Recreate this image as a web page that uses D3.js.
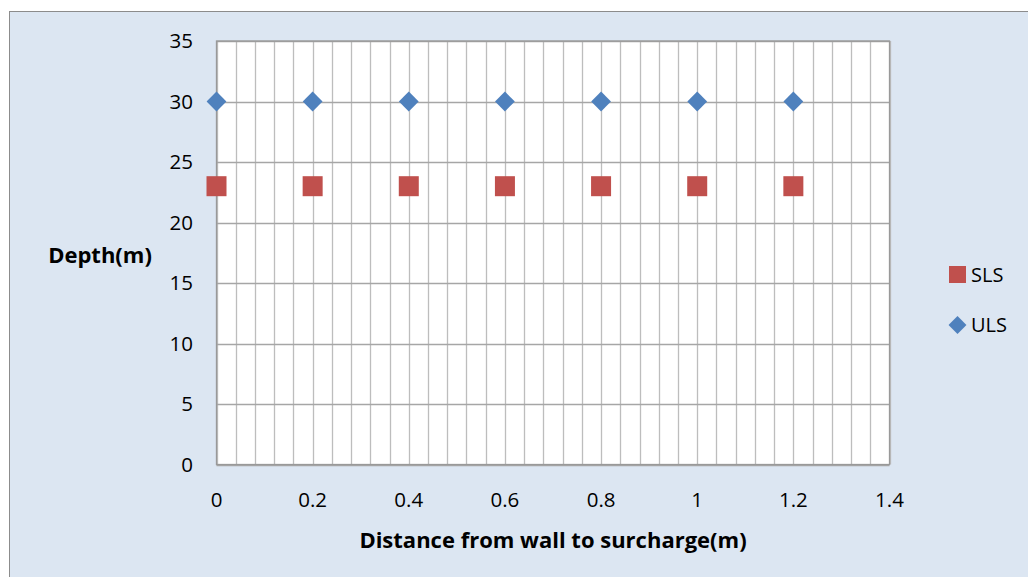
<!DOCTYPE html>
<html><head><meta charset="utf-8">
<script src="https://cdn.jsdelivr.net/npm/d3@7"></script>
<style>body{margin:0;background:#fff}svg{display:block}text{font-family:"Open Sans","Noto Sans",sans-serif}</style>
</head><body><svg id="c" width="1028" height="577"></svg>
<script>
const distances = [0, 0.2, 0.4, 0.6, 0.8, 1, 1.2];
const slsDepth = [23, 23, 23, 23, 23, 23, 23];
const ulsDepth = [30, 30, 30, 30, 30, 30, 30];
const xTicks = [0, 0.2, 0.4, 0.6, 0.8, 1, 1.2, 1.4];
const yTicks = [0, 5, 10, 15, 20, 25, 30, 35];
const seriesNames = ["SLS", "ULS"];

const svg = d3.select("#c");
svg.append("rect").attr("x", 9.5).attr("y", 11.5).attr("width", 1030).attr("height", 580)
  .attr("fill", "#DCE6F2").attr("stroke", "#8c8c8c").attr("stroke-width", 1);

const L = 216.5, R = 889.5, T = 41, B = 464.5;
const x = d3.scaleLinear().domain([0, 1.4]).range([L, R]);
const y = d3.scaleLinear().domain([0, 35]).range([B, T]);

svg.append("rect").attr("x", L).attr("y", T).attr("width", R - L).attr("height", B - T).attr("fill", "#fff");

const minor = d3.range(0, 36).map(i => i * 0.04);
svg.append("g").selectAll("line").data(minor).join("line")
  .attr("x1", d => Math.round(x(d)) + 0.5).attr("x2", d => Math.round(x(d)) + 0.5)
  .attr("y1", T).attr("y2", B).attr("stroke", "#bdbdbd").attr("stroke-width", 1.3);
svg.append("g").selectAll("line").data(yTicks).join("line")
  .attr("x1", L).attr("x2", R).attr("y1", d => Math.round(y(d)) + 0.5).attr("y2", d => Math.round(y(d)) + 0.5)
  .attr("stroke", "#a6a6a6").attr("stroke-width", 1.3);
svg.append("rect").attr("x", L).attr("y", T).attr("width", R - L).attr("height", B - T)
  .attr("fill", "none").attr("stroke", "#999").attr("stroke-width", 1.3);

svg.append("g").selectAll("text").data(yTicks).join("text")
  .attr("x", 193).attr("y", d => y(d)).attr("dy", "0.35em").attr("text-anchor", "end")
  .attr("font-size", 20.5).attr("fill", "#000").text(d => d);
svg.append("g").selectAll("text").data(xTicks).join("text")
  .attr("x", d => x(d)).attr("y", 500).attr("dy", "0.35em").attr("text-anchor", "middle")
  .attr("font-size", 20.5).attr("fill", "#000").text(d => d);

svg.append("text").attr("x", 553).attr("y", 540).attr("dy", "0.35em").attr("text-anchor", "middle")
  .attr("font-size", 22).attr("font-weight", "bold").text("Distance from wall to surcharge(m)");
svg.append("text").attr("x", 100).attr("y", 255).attr("dy", "0.35em").attr("text-anchor", "middle")
  .attr("font-size", 22).attr("font-weight", "bold").text("Depth(m)");

const slsColor = "#C0504D", ulsColor = "#4F81BD";
svg.append("g").selectAll("rect").data(distances).join("rect")
  .attr("x", d => x(d) - 10).attr("y", (d, i) => y(slsDepth[i]) - 10)
  .attr("width", 20).attr("height", 20).attr("fill", slsColor);
const diamond = d3.symbol().type(d3.symbolDiamond2).size(250);
svg.append("g").selectAll("path").data(distances).join("path")
  .attr("d", diamond).attr("transform", (d, i) => `translate(${x(d)},${y(ulsDepth[i])})`)
  .attr("fill", ulsColor);

// legend
svg.append("rect").attr("x", 949).attr("y", 266).attr("width", 17).attr("height", 17).attr("fill", slsColor);
svg.append("text").attr("x", 971).attr("y", 275).attr("dy", "0.35em").attr("font-size", 20).text(seriesNames[0]);
svg.append("path").attr("d", d3.symbol().type(d3.symbolDiamond2).size(205)).attr("transform", "translate(957.5,325)").attr("fill", ulsColor);
svg.append("text").attr("x", 971).attr("y", 325).attr("dy", "0.35em").attr("font-size", 20).text(seriesNames[1]);
</script></body></html>
